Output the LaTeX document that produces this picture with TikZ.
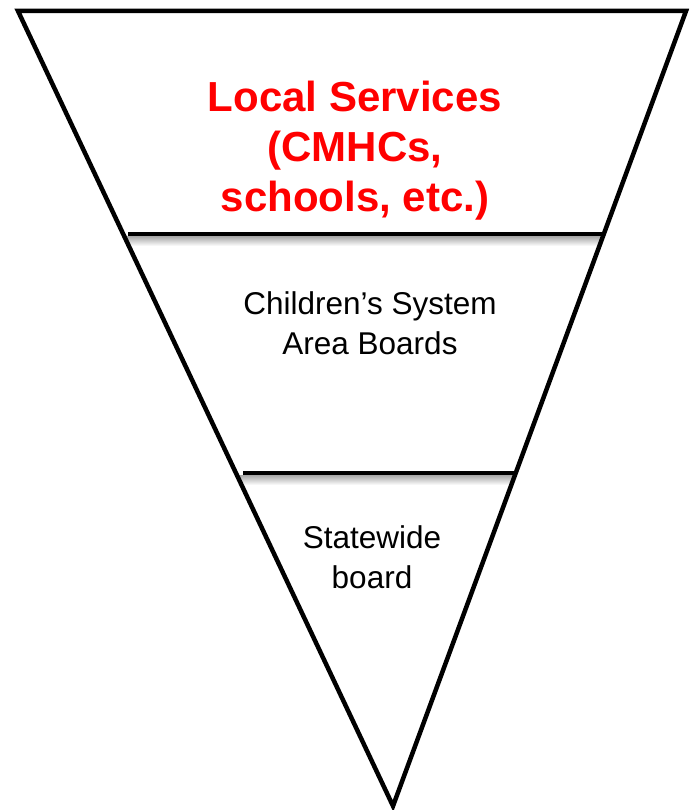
\documentclass[tikz,border=0pt]{standalone}
\usepackage{fontspec}
\setmainfont{Liberation Sans}
\begin{document}
\begin{tikzpicture}[x=1pt,y=-1pt,
  edge/.style={line width=4.5pt,line join=miter},
  divider/.style={line width=4pt},
  shade/.style={top color=black!35,bottom color=white,draw=none},
  redtext/.style={text=red,font=\fontsize{42}{50}\selectfont\bfseries,align=center},
  blacktext/.style={text=black,font=\fontsize{31.5}{40}\selectfont,align=center}]
\useasboundingbox (0,0) rectangle (691,810);
\coordinate (tl) at (18,11);
\coordinate (tr) at (686,11);
\coordinate (b) at (393,806);
\coordinate (l1a) at (128,234);
\coordinate (l1b) at (605,234);
\coordinate (l2a) at (243,473);
\coordinate (l2b) at (516,473);
\begin{scope}
  \clip (tl) -- (tr) -- (b) -- cycle;
  \shade[shade] (100,236) rectangle (620,246);
  \shade[shade] (230,475) rectangle (530,485);
\end{scope}
\draw[divider] (l1a) -- (l1b);
\draw[divider] (l2a) -- (l2b);
\draw[edge] (tl) -- (tr) -- (b) -- cycle;
\node[redtext] (local) at (355,151) {Local Services\\(CMHCs,\\schools, etc.)};
\node[blacktext] (area) at (370,323) {Children’s System\\Area Boards};
\node[blacktext] (state) at (372,557) {Statewide\\board};
\end{tikzpicture}
\end{document}
